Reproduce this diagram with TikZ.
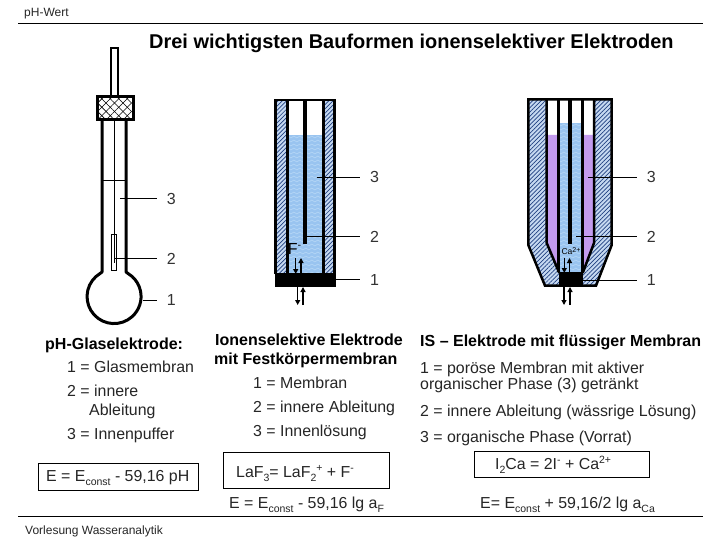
\documentclass[tikz,border=0pt]{standalone}
\usepackage{fontspec}
\setmainfont{Liberation Sans}
\usetikzlibrary{arrows.meta,patterns.meta,decorations.pathmorphing}
\newcommand\subt[1]{\raisebox{-.28em}{\fontsize{10.5}{10}\selectfont #1}}
\newcommand\supt[1]{\raisebox{.35em}{\fontsize{10.5}{10}\selectfont #1}}
\definecolor{hatchbg}{HTML}{C6D9F1}
\definecolor{hatchln}{HTML}{1F3F80}
\definecolor{aqua}{HTML}{99C4F0}
\definecolor{aqual}{HTML}{B4D6F6}
\definecolor{lila}{HTML}{C39BEE}
\tikzset{
  x=1pt,y=-1pt,
  txt/.style={anchor=west,inner sep=0pt,text height=11pt,text depth=0pt,font=\fontsize{15.9}{16}\selectfont,text=black!85},
  head/.style={anchor=west,inner sep=0pt,text height=11pt,text depth=0pt,font=\fontsize{16}{16}\selectfont\bfseries},
  small/.style={anchor=west,inner sep=0pt,text height=9pt,text depth=0pt,font=\fontsize{12}{12}\selectfont,text=black!85},
  numlab/.style={anchor=west,inner ysep=0pt,inner xsep=10pt,font=\fontsize{16}{16}\selectfont,text=black!80},
  leader/.style={line width=1pt},
  wall/.style={line width=2.5pt,line join=miter},
  thickwall/.style={line width=3pt},
  hatched/.style={fill=hatchbg,postaction={pattern={Lines[angle=45,distance=3pt,line width=.7pt]},pattern color=hatchln}},
  ion/.style={line width=1.2pt,-{Triangle[length=5pt,width=5pt]}},
  eqbox/.style={draw,line width=1pt,inner sep=0pt,anchor=north west},
  wave/.style={aqual,line width=.7pt,decorate,decoration={snake,segment length=6pt,amplitude=.9pt}},
}
\begin{document}
\begin{tikzpicture}
\useasboundingbox (0,0) rectangle (720,540);
\fill[white] (0,0) rectangle (720,540);

% header / footer
\node[small] (hdr) at (24,12) {pH-Wert};
\coordinate (tl) at (18,24); \coordinate (tr) at (703,24);
\draw[line width=1pt] (tl) -- (tr);
\node[head,font=\fontsize{19.95}{20}\selectfont\bfseries] (title) at (149,43) {Drei wichtigsten Bauformen ionenselektiver Elektroden};
\coordinate (bl) at (18,516); \coordinate (br) at (703,516);
\draw[line width=1pt] (bl) -- (br);
\node[small] (ftr) at (25,530) {Vorlesung Wasseranalytik};

% ---------- glass electrode
\draw[wall,line width=2pt] (110.7,96) -- (110.7,48) -- (118.3,48) -- (118.3,96);
\draw[thickwall,line join=round] (102,121) -- (102,272) -- (96,276.5)
   arc[start angle=132,end angle=408,radius=27pt]
   -- (126,272) -- (126,121);
\draw[line width=1pt] (102,180.7) -- (126,180.7);
\draw[line width=1pt] (114,121) -- (114,263);
\draw[line width=.8pt] (111.7,234) rectangle (116.7,270);
\draw[line width=3pt,fill=white] (97,96.7) rectangle (133,120);
\path[pattern={Lines[angle=45,distance=6pt,line width=.6pt]},pattern color=black] (98.5,98.2) rectangle (131.5,118.5);
\path[pattern={Lines[angle=-45,distance=6pt,line width=.6pt]},pattern color=black] (98.5,98.2) rectangle (131.5,118.5);

\coordinate (ga) at (120,199);
\node[numlab] (g3) at (156.7,199) {3};
\draw[leader] (ga) -- (g3.west);
\coordinate (gb) at (114,258.5);
\node[numlab] (g2) at (156.7,258.5) {2};
\draw[leader] (gb) -- (g2.west);
\coordinate (gc) at (143,300);
\node[numlab] (g1) at (156.7,300) {1};
\draw[leader] (gc) -- (g1.west);

% ---------- solid membrane electrode
\path[hatched] (275.7,100) rectangle (287.3,273);
\path[hatched] (323.3,100) rectangle (334.7,273);
\fill[aqua] (287.3,135) rectangle (323.3,273);
\begin{scope}
  \clip (287.3,135) rectangle (323.3,273);
  \foreach \yy in {137,141,...,273}
    \draw[wave] (280,\yy) -- (330,\yy);
\end{scope}
\draw[wall] (275.7,274) -- (275.7,100) -- (334.7,100) -- (334.7,274);
\draw[wall] (287.3,100) -- (287.3,274);
\draw[wall] (323.3,100) -- (323.3,274);
\draw[line width=3.5pt] (305,100) -- (305,243.5);
\fill[black] (274.5,272.7) rectangle (336,286.7);
\node[inner sep=0pt,anchor=center,font=\fontsize{16}{16}\selectfont,text=black] (fion) at (294.5,249) {F\supt{-}};

\coordinate (fa1) at (295.7,258); \coordinate (fa2) at (295.7,274);
\draw[ion] (fa1) -- (fa2);
\coordinate (fb1) at (301,274); \coordinate (fb2) at (301,258);
\draw[ion] (fb1) -- (fb2);
\coordinate (fc1) at (297.7,286.7); \coordinate (fc2) at (297.7,305);
\draw[ion] (fc1) -- (fc2);
\coordinate (fd1) at (303,305); \coordinate (fd2) at (303,287);
\draw[ion] (fd1) -- (fd2);

\coordinate (ma) at (316.7,177.3);
\node[numlab] (m3) at (360,177.3) {3};
\draw[leader] (ma) -- (m3.west);
\coordinate (mb) at (305,236.7);
\node[numlab] (m2) at (360,236.7) {2};
\draw[leader] (mb) -- (m2.west);
\coordinate (mc) at (336,279.5);
\node[numlab] (m1) at (360,279.5) {1};
\draw[leader] (mc) -- (m1.west);

% ---------- liquid membrane electrode
\path[hatched] (528.3,99.3) -- (611.7,99.3) -- (611.7,245) -- (596,285.7) -- (545,285.7) -- (528.3,245) -- cycle;
\fill[white] (546.7,99.3) -- (594,99.3) -- (594,243) -- (582.7,271.7) -- (559.3,271.7) -- (546.7,243) -- cycle;
\fill[lila] (546.7,135) -- (594,135) -- (594,243) -- (582.7,271.7) -- (559.3,271.7) -- (546.7,243) -- cycle;
\fill[aqua] (558.3,123.3) rectangle (582.3,272);
\begin{scope}
  \clip (558.3,123.3) rectangle (582.3,272);
  \foreach \yy in {125,129,...,273}
    \draw[wave] (550,\yy) -- (590,\yy);
\end{scope}
\draw[wall] (545,285.7) -- (528.3,245) -- (528.3,99.3) -- (611.7,99.3) -- (611.7,245) -- (596,285.7) -- cycle;
\draw[wall] (546.7,99.3) -- (546.7,243) -- (559.3,273);
\draw[wall] (594,99.3) -- (594,243) -- (582.7,273);
\draw[wall] (558.3,99.3) -- (558.3,272);
\draw[wall] (582.3,99.3) -- (582.3,272);
\draw[line width=3.5pt] (570,99.3) -- (570,243.5);
\fill[black] (558.5,271.7) rectangle (582.7,286);
\node[inner sep=0pt,anchor=center,font=\fontsize{8.5}{9}\selectfont] (caion) at (571,251) {Ca\raisebox{.3em}{\fontsize{7}{7}\selectfont 2+}};

\coordinate (ca1) at (564.3,258); \coordinate (ca2) at (564.3,273);
\draw[ion] (ca1) -- (ca2);
\coordinate (cb1) at (569.5,273); \coordinate (cb2) at (569.5,258);
\draw[ion] (cb1) -- (cb2);
\coordinate (cc1) at (564,286.7); \coordinate (cc2) at (564,305);
\draw[ion] (cc1) -- (cc2);
\coordinate (cd1) at (570,305); \coordinate (cd2) at (570,287);
\draw[ion] (cd1) -- (cd2);

\coordinate (ra) at (588.3,177.3);
\node[numlab] (r3) at (636.7,177.3) {3};
\draw[leader] (ra) -- (r3.west);
\coordinate (rb) at (576,236.7);
\node[numlab] (r2) at (636.7,236.7) {2};
\draw[leader] (rb) -- (r2.west);
\coordinate (rc) at (582.7,280);
\node[numlab] (r1) at (636.7,280) {1};
\draw[leader] (rc) -- (r1.west);

% ---------- left text
\node[head] (t1) at (45,344) {pH-Glaselektrode:};
\node[txt] (t2) at (67,367) {1 = Glasmembran};
\node[txt] (t3) at (67,391) {2 = innere};
\node[txt] (t4) at (89,410) {Ableitung};
\node[txt] (t5) at (67,434) {3 = Innenpuffer};
\node[eqbox,minimum width=160pt,minimum height=27pt] (b1) at (38,463) {};
\node[txt] (e1) at (46,476) {E = E\subt{const} - 59,16 pH};

% ---------- middle text
\node[head] (t6) at (215,340) {Ionenselektive Elektrode};
\node[head] (t7) at (214,359) {mit Festkörpermembran};
\node[txt] (t8) at (253,383) {1 = Membran};
\node[txt] (t9) at (253,407) {2 = innere Ableitung};
\node[txt] (t10) at (253,431) {3 = Innenlösung};
\node[eqbox,minimum width=166pt,minimum height=36pt] (b2) at (223,452) {};
\node[txt] (e2) at (236,472) {LaF\subt{3}= LaF\subt{2}\supt{+} + F\supt{-}};
\node[txt] (e3) at (229,503) {E = E\subt{const} - 59,16 lg a\subt{F}};

% ---------- right text
\node[head] (t11) at (420,341) {IS – Elektrode mit flüssiger Membran};
\node[txt] (t12) at (420,368) {1 = poröse Membran mit aktiver};
\node[txt] (t13) at (420,384) {organischer Phase (3) getränkt};
\node[txt] (t14) at (420,411) {2 = innere Ableitung (wässrige Lösung)};
\node[txt] (t15) at (420,437) {3 = organische Phase (Vorrat)};
\node[eqbox,minimum width=175pt,minimum height=26pt] (b3) at (474,451) {};
\node[txt] (e4) at (495,464) {I\subt{2}Ca = 2I\supt{-} + Ca\supt{2+}};
\node[txt] (e5) at (480,503) {E= E\subt{const} + 59,16/2 lg a\subt{Ca}};
\end{tikzpicture}
\end{document}
